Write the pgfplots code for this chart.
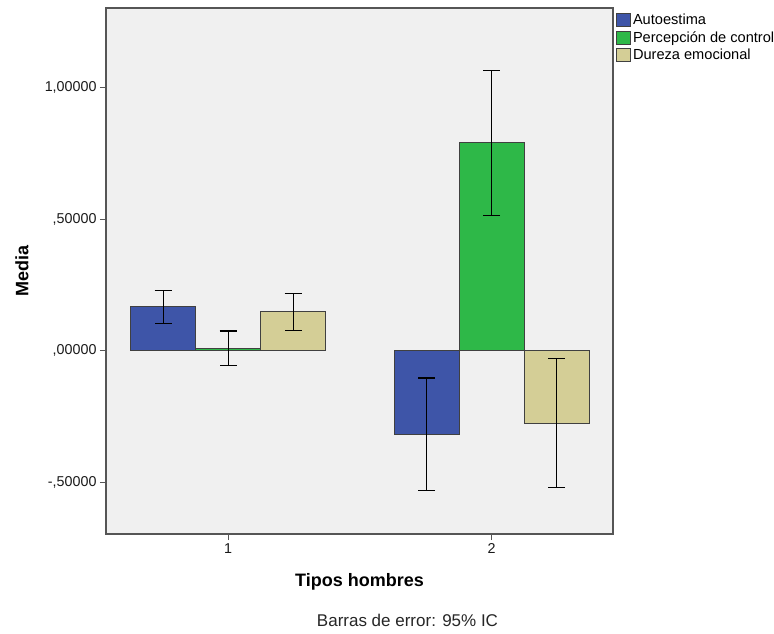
\documentclass[border=0pt]{standalone}
\usepackage{pgfplots}
\pgfplotsset{compat=1.18}
\usepackage{fontspec}
\setmainfont{Liberation Sans}
\definecolor{cblue}{RGB}{62,85,168}
\definecolor{cgreen}{RGB}{46,184,72}
\definecolor{ctan}{RGB}{212,206,150}
\definecolor{bg}{RGB}{240,240,240}
\definecolor{frame}{RGB}{85,85,85}
\begin{document}
\begin{tikzpicture}
\useasboundingbox (0,0) rectangle (774pt,633pt);
\begin{axis}[
 at={(106pt,99pt)}, anchor=south west,
 scale only axis, width=507pt, height=526pt,
 xmin=0.536, xmax=2.461, ymin=-0.697, ymax=1.303,
 axis background/.style={fill=bg},
 axis line style={frame, line width=1.3pt},
 ybar=0pt, bar width=65pt,
 xtick={1,2}, xticklabels={1,2},
 ytick={-0.5,0,0.5,1},
 yticklabels={{-,50000},{,00000},{,50000},{1,00000}},
 tick pos=left, tick align=outside, major tick length=6pt,
 tick style={frame, line width=1.2pt},
 ticklabel style={font=\fontsize{14.3}{16}\selectfont, text=black!90},
 xlabel={Tipos hombres}, ylabel={Media},
 label style={font=\bfseries\fontsize{18}{20}\selectfont},
 x label style={at={(axis description cs:0.5,-0.091)}, anchor=center},
 y label style={at={(axis description cs:-0.166,0.5)}, anchor=center},
 legend style={at={(axis description cs:1,1)}, anchor=north west, xshift=3pt, yshift=-4pt,
   draw=none, fill=none, font=\fontsize{14.6}{15}\selectfont, row sep=1.2pt, inner sep=0pt},
 legend cell align=left,
 legend image code/.code={\draw[#1] (0pt,-6.5pt) rectangle (14pt,6.5pt);},
 error bars/error bar style={black, line width=1.1pt},
 error bars/error mark options={rotate=90, mark size=8.5pt, black, line width=1.1pt},
]
\addplot[fill=cblue, draw=black!75, line width=0.8pt,
  error bars/.cd, y dir=both, y explicit]
  coordinates {(1,0.167) +- (0,0.062) (2,-0.317) +- (0,0.213)};
\addplot[fill=cgreen, draw=black!75, line width=0.8pt,
  error bars/.cd, y dir=both, y explicit]
  coordinates {(1,0.009) +- (0,0.066) (2,0.791) +- (0,0.276)};
\addplot[fill=ctan, draw=black!75, line width=0.8pt,
  error bars/.cd, y dir=both, y explicit]
  coordinates {(1,0.148) +- (0,0.070) (2,-0.276) +- (0,0.245)};
\legend{Autoestima, Percepción de control, Dureza emocional}
\end{axis}
\node[font=\fontsize{17}{19}\selectfont, text=black!85] at (407.5pt,13pt) {Barras de error: 95\% IC};
\end{tikzpicture}
\end{document}
